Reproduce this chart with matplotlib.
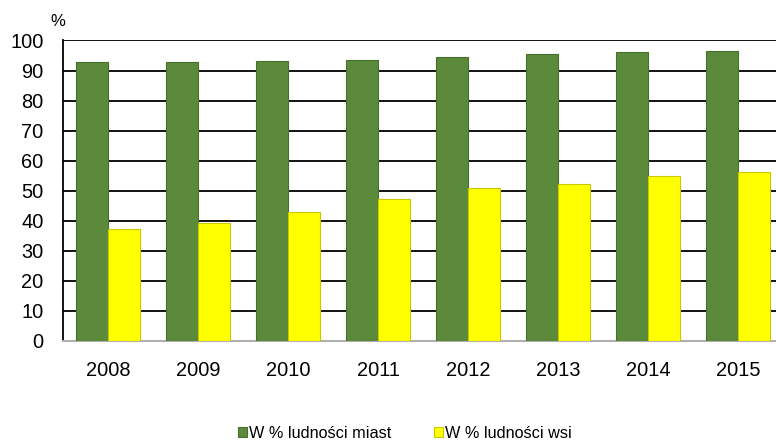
import matplotlib
matplotlib.use("Agg")
import matplotlib.pyplot as plt
import numpy as np

years = ["2008", "2009", "2010", "2011", "2012", "2013", "2014", "2015"]
miasta = [92.8, 92.8, 93.1, 93.6, 94.4, 95.6, 96.2, 96.4]
wies = [37.2, 39.2, 42.8, 47.2, 51.0, 52.4, 54.8, 56.2]
yticks = [0, 10, 20, 30, 40, 50, 60, 70, 80, 90, 100]
labels = ["W % ludności miast", "W % ludności wsi"]

plt.rcParams['font.family'] = ['Liberation Sans', 'DejaVu Sans']

fig = plt.figure(figsize=(7.76, 4.47), dpi=100)
W, H = 776, 447
left, right, top, bottom = 63, 783, 40.5, 341
ax = fig.add_axes([left / W, (H - bottom) / H, (right - left) / W, (bottom - top) / H])

x = np.arange(len(years))
bw = 0.356
green = "#5b8a3b"
green_edge = "#46702c"
yellow = "#ffff00"
yellow_edge = "#c9c900"

b1 = ax.bar(x - bw / 2, miasta, bw, color=green, edgecolor=green_edge, linewidth=0.8, zorder=3, label=labels[0])
b2 = ax.bar(x + bw / 2, wies, bw, color=yellow, edgecolor=yellow_edge, linewidth=0.8, zorder=3, label=labels[1])

ax.set_xlim(-0.5, len(years) - 0.5)
ax.set_ylim(0, 100)
ax.set_yticks(yticks)
ax.set_yticklabels([str(t) for t in yticks], fontsize=14.4)
ax.set_xticks(x)
ax.set_xticklabels(years, fontsize=14.4)
ax.tick_params(axis='y', length=0, pad=14)
ax.tick_params(axis='x', length=0, pad=14.5)
ax.yaxis.grid(True, color='black', linewidth=1.3, zorder=1)
ax.set_axisbelow(True)
for s in ['top', 'right']:
    ax.spines[s].set_visible(False)
ax.spines['left'].set_color('black')
ax.spines['left'].set_linewidth(1.3)
ax.spines['bottom'].set_color('#b0b0b0')
ax.spines['bottom'].set_linewidth(1.5)

fig.text(58 / W, 1 - 21 / H, "%", fontsize=12, ha='center', va='center')

leg = fig.legend(handles=[b1, b2], labels=labels, loc='center', bbox_to_anchor=(405 / W, 1 - 433 / H),
                 ncol=2, frameon=False, fontsize=11.7, handlelength=0.55, handleheight=0.55,
                 handletextpad=0.15, columnspacing=2.6)

fig.savefig("out.png", dpi=100)
